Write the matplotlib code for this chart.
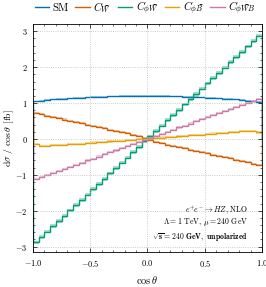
import numpy as np
import matplotlib
matplotlib.use("Agg")
import matplotlib.pyplot as plt

plt.rcParams['font.family'] = 'serif'
plt.rcParams['font.serif'] = ['cmr10', 'DejaVu Serif']
plt.rcParams['mathtext.fontset'] = 'cm'
plt.rcParams['axes.formatter.use_mathtext'] = True
plt.rcParams['font.size'] = 7

edges = np.linspace(-1, 1, 41)

sm = [1.05, 1.07, 1.08, 1.10, 1.11, 1.12, 1.13, 1.14, 1.15, 1.16,
      1.17, 1.18, 1.18, 1.19, 1.19, 1.20, 1.20, 1.21, 1.21, 1.21,
      1.21, 1.21, 1.20, 1.20, 1.19, 1.19, 1.18, 1.17, 1.17, 1.16,
      1.15, 1.14, 1.13, 1.12, 1.11, 1.10, 1.08, 1.07, 1.05, 1.04]
c_w = [0.72, 0.69, 0.65, 0.61, 0.58, 0.54, 0.51, 0.47, 0.44, 0.40,
       0.37, 0.33, 0.30, 0.26, 0.23, 0.19, 0.16, 0.12, 0.08, 0.03,
       -0.03, -0.08, -0.12, -0.16, -0.19, -0.23, -0.26, -0.30, -0.33, -0.37,
       -0.40, -0.44, -0.47, -0.51, -0.54, -0.58, -0.61, -0.65, -0.69, -0.72]
c_phiw = [-2.88, -2.73, -2.58, -2.43, -2.29, -2.14, -1.99, -1.84, -1.70, -1.55,
          -1.40, -1.25, -1.11, -0.96, -0.81, -0.66, -0.52, -0.37, -0.22, -0.07,
          0.07, 0.22, 0.37, 0.52, 0.66, 0.81, 0.96, 1.11, 1.25, 1.40,
          1.55, 1.70, 1.84, 1.99, 2.14, 2.29, 2.43, 2.58, 2.73, 2.88]
c_phib = [-0.15, -0.20, -0.19, -0.18, -0.17, -0.16, -0.15, -0.14, -0.13, -0.12,
          -0.10, -0.09, -0.08, -0.07, -0.06, -0.05, -0.04, -0.03, -0.01, 0.00,
          0.01, 0.02, 0.04, 0.05, 0.06, 0.07, 0.08, 0.10, 0.11, 0.12,
          0.13, 0.15, 0.16, 0.17, 0.19, 0.20, 0.21, 0.22, 0.21, 0.18]
c_phiwb = [-1.12, -1.06, -1.01, -0.95, -0.89, -0.83, -0.78, -0.72, -0.66, -0.60,
           -0.55, -0.49, -0.43, -0.37, -0.32, -0.26, -0.20, -0.14, -0.09, -0.03,
           0.03, 0.09, 0.14, 0.20, 0.26, 0.32, 0.37, 0.43, 0.49, 0.55,
           0.60, 0.66, 0.72, 0.78, 0.83, 0.89, 0.95, 1.01, 1.06, 1.12]

series = [sm, c_w, c_phiw, c_phib, c_phiwb]
labels = ['SM', r'$C_{\widetilde{W}}$', r'$C_{\phi\widetilde{W}}$',
          r'$C_{\phi\widetilde{B}}$', r'$C_{\phi\widetilde{W}B}$']
colors = ['#0072b2', '#d55e00', '#009e73', '#e69f00', '#cc79a7']
band = [0.02, 0.03, 0.05, 0.03, 0.03]

fig = plt.figure(figsize=(2.66, 2.87), dpi=100)
ax = fig.add_axes([0.124, 0.122, 0.861, 0.794])

for vals, lab, col, b in zip(series, labels, colors, band):
    v = np.array(vals)
    ax.stairs(v + b, edges, baseline=v - b, fill=True, color=col, alpha=0.35, lw=0)
    ax.stairs(v, edges, color=col, lw=1.0, label=lab)

ax.set_xlim(-1, 1)
ax.set_ylim(-3.15, 3.2)
ax.set_xticks([-1, -0.5, 0, 0.5, 1])
ax.set_xticklabels(['$-1.0$', '$-0.5$', '$0.0$', '$0.5$', '$1.0$'])
ax.set_yticks([-3, -2, -1, 0, 1, 2, 3])
ax.set_xticks(np.arange(-1, 1.01, 0.1), minor=True)
ax.set_yticks(np.arange(-3, 3.01, 0.2), minor=True)
ax.tick_params(which='both', direction='in', top=True, right=True, labelsize=6)
ax.tick_params(which='major', length=3, width=0.5, pad=4)
ax.tick_params(which='minor', length=1.5, width=0.4)
for s in ax.spines.values():
    s.set_linewidth(0.6)
ax.grid(True, which='major', ls=':', color='#bbbbbb', lw=0.6)

ax.set_xlabel(r'$\cos\theta$', fontsize=7.5, labelpad=4)
ax.set_ylabel(r'$\mathrm{d}\sigma\ /\ \cos\theta\ \mathrm{[fb]}$', fontsize=7)
ax.yaxis.set_label_coords(-0.075, 0.5)

ax.legend(loc='lower center', bbox_to_anchor=(0.49, 1.0), ncol=5, frameon=False,
          fontsize=8, handlelength=1.3, columnspacing=0.6, handletextpad=0.3,
          borderaxespad=0.25)

ax.text(0.94, 0.185, r'$e^{+}e^{-} \to HZ$, NLO', transform=ax.transAxes,
        ha='right', va='center', fontsize=5.6)
ax.text(0.94, 0.13, r'$\Lambda = 1$ TeV, $\mu = 240$ GeV', transform=ax.transAxes,
        ha='right', va='center', fontsize=5.6)
ax.text(0.94, 0.063, r'$\mathbf{\sqrt{s} = 240\ GeV,\ unpolarized}$', transform=ax.transAxes,
        ha='right', va='center', fontsize=5.6)

fig.savefig('out.png', dpi=100)
